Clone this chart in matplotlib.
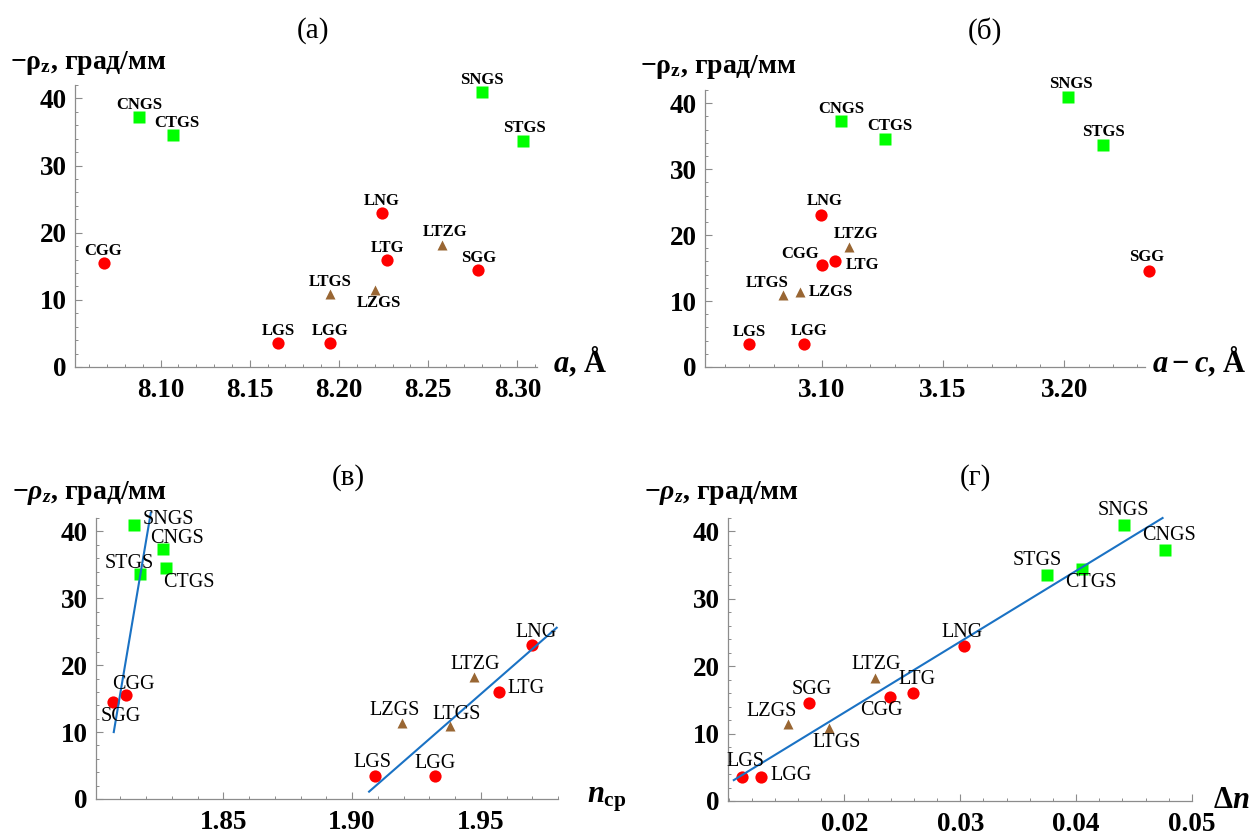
import matplotlib
matplotlib.use("Agg")
import matplotlib.pyplot as plt
from matplotlib.ticker import MultipleLocator, FixedLocator, FormatStrFormatter

plt.rcParams['font.family'] = ['Liberation Serif', 'DejaVu Serif']
plt.rcParams['font.weight'] = 'bold'
plt.rcParams['mathtext.fontset'] = 'custom'
plt.rcParams['mathtext.rm'] = 'Liberation Serif:bold'
plt.rcParams['mathtext.it'] = 'Liberation Serif:bold:italic'
plt.rcParams['mathtext.bf'] = 'Liberation Serif:bold'

# ---- data -------------------------------------------------------------
crystals = ["CGG", "CNGS", "CTGS", "LGS", "LGG", "LTGS", "LZGS",
            "LNG", "LTG", "LTZG", "SGG", "SNGS", "STGS"]
# specific optical rotation, -rho_z (deg/mm)
rho = [15.5, 37.3, 34.5, 3.5, 3.5, 10.9, 11.4, 23.0, 16.0, 18.2, 14.5, 41.0, 33.6]
# lattice parameter a (Angstrom)
lattice_a = [8.068, 8.088, 8.107, 8.166, 8.195, 8.195, 8.220,
             8.224, 8.227, 8.258, 8.278, 8.280, 8.303]
# a - c (Angstrom)
a_minus_c = [3.100, 3.108, 3.126, 3.070, 3.0925, 3.084, 3.091,
             3.0997, 3.1055, 3.111, 3.235, 3.2017, 3.216]
# mean refractive index
n_mean = [1.812, 1.8265, 1.8276, 1.909, 1.9324, 1.938, 1.9193,
          1.970, 1.957, 1.9473, 1.8071, 1.8153, 1.8177]
# birefringence
delta_n = [0.0239, 0.0477, 0.0405, 0.0112, 0.0128, 0.0187, 0.0151,
           0.0303, 0.0259, 0.0226, 0.0169, 0.0441, 0.0375]

circle_group = ["CGG", "LGS", "LGG", "LNG", "LTG", "SGG"]
square_group = ["CNGS", "CTGS", "SNGS", "STGS"]
triangle_group = ["LTGS", "LZGS", "LTZG"]

# linear trends
trend_n_left_x = [1.8074, 1.8218]
trend_n_left_y = [10.0, 42.8]
trend_n_right_x = [1.9066, 1.9795]
trend_n_right_y = [1.1, 25.6]
trend_dn_x = [0.01045, 0.04746]
trend_dn_y = [3.1, 42.0]

xticks_a = [8.10, 8.15, 8.20, 8.25, 8.30]
xticks_ac = [3.10, 3.15, 3.20]
xticks_n = [1.85, 1.90, 1.95]
xticks_dn = [0.02, 0.03, 0.04, 0.05]
yticks = [0, 10, 20, 30, 40]

# ---- figure -----------------------------------------------------------
W, H = 1252, 832
fig = plt.figure(figsize=(W / 100, H / 100), dpi=100)


def px_axes(left, right, top, bottom):
    return fig.add_axes([left / W, 1 - bottom / H, (right - left) / W, (bottom - top) / H])


def ftext(x, y, s, **kw):
    fig.text(x / W, 1 - y / H, s, **kw)


RED, GREEN, BROWN = "#ff0000", "#00ff00", "#996633"
LINE = "#1a72c4"
AXC = "#8c8c8c"


def setup(ax, xlim, xticks, xminor):
    ax.set_xlim(*xlim)
    ax.set_ylim(0, 42)
    for s in ("top", "right"):
        ax.spines[s].set_visible(False)
    for s in ("left", "bottom"):
        ax.spines[s].set_color(AXC)
        ax.spines[s].set_linewidth(0.9)
    ax.xaxis.set_major_locator(FixedLocator(xticks))
    ax.xaxis.set_minor_locator(MultipleLocator(xminor))
    ax.yaxis.set_major_locator(FixedLocator(yticks))
    ax.yaxis.set_minor_locator(MultipleLocator(2))
    ax.xaxis.set_major_formatter(FormatStrFormatter("%.2f"))
    ax.yaxis.set_major_formatter(FormatStrFormatter("%d"))
    ax.tick_params(which="major", direction="in", length=5, width=0.8, color=AXC,
                   labelsize=19.5)
    ax.tick_params(which="minor", direction="in", length=2.5, width=0.7, color=AXC)
    ax.tick_params(axis="x", which="major", pad=8)
    ax.tick_params(axis="y", which="major", pad=6)
    ax.patch.set_alpha(0)


def scatter(ax, xs, offsets, fsize, weight):
    for group, marker, color, ms in ((circle_group, "o", RED, 8.8),
                                     (square_group, "s", GREEN, 8.0),
                                     (triangle_group, "^", BROWN, 7.4)):
        idx = [crystals.index(c) for c in group]
        ax.plot([xs[i] for i in idx], [rho[i] for i in idx], ls="none",
                marker=marker, ms=ms, mfc=color, mec="none", clip_on=False, zorder=3)
    for i, name in enumerate(crystals):
        dx, dy = offsets.get(name, (0, 12))
        ax.annotate(name, (xs[i], rho[i]), xytext=(dx * 0.72, dy * 0.72),
                    textcoords="offset points", ha="center", va="center",
                    fontsize=fsize, fontweight=weight, annotation_clip=False, zorder=5)


# (а) rho vs a
ax1 = px_axes(75, 537, 85, 367)
setup(ax1, (8.052, 8.311), xticks_a, 0.01)
scatter(ax1, lattice_a,
        {"CTGS": (4, 12), "LTZG": (3, 13), "LZGS": (4, -13), "STGS": (2, 13)},
        12, "bold")

# (б) rho vs a - c
ax2 = px_axes(705, 1145, 90, 367)
setup(ax2, (3.0517, 3.2333), xticks_ac, 0.01)
scatter(ax2, a_minus_c,
        {"CTGS": (5, 13), "LTZG": (7, 13), "CGG": (-22, 11), "LTG": (27, -4),
         "LTGS": (-16, 12), "LZGS": (31, 0), "LGG": (5, 13), "LNG": (3, 14),
         "SGG": (-2, 14), "SNGS": (2, 13), "STGS": (0, 13)}, 12, "bold")

# (в) rho vs mean refractive index
ax3 = px_axes(96, 558, 518, 799)
setup(ax3, (1.8005, 1.980), xticks_n, 0.01)
scatter(ax3, n_mean,
        {"SNGS": (34, 5), "CNGS": (14, 11), "STGS": (-11, 11), "CTGS": (23, -14),
         "CGG": (8, 11), "SGG": (8, -15), "LNG": (4, 13), "LTZG": (1, 13),
         "LTG": (27, 3), "LZGS": (-7, 12), "LTGS": (7, 12), "LGS": (-3, 13),
         "LGG": (0, 12)}, 14.5, "normal")
ax3.plot(trend_n_left_x, trend_n_left_y, color=LINE, lw=1.5, clip_on=False, zorder=4)
ax3.plot(trend_n_right_x, trend_n_right_y, color=LINE, lw=1.5, clip_on=False, zorder=4)

# (г) rho vs birefringence
ax4 = px_axes(728, 1192, 518, 801)
setup(ax4, (0.00995, 0.0500), xticks_dn, 0.002)
scatter(ax4, delta_n,
        {"SNGS": (0, 14), "CNGS": (4, 14), "STGS": (-10, 14), "CTGS": (9, -14),
         "LNG": (-2, 14), "LTZG": (2, 14), "LTG": (4, 14), "SGG": (3, 14),
         "CGG": (-8, -14), "LZGS": (-16, 13), "LTGS": (7, -15), "LGS": (3, 16),
         "LGG": (30, 2)}, 14.5, "normal")
ax4.plot(trend_dn_x, trend_dn_y, color=LINE, lw=1.5, clip_on=False, zorder=4)

# panel titles
for x, y, s in ((313, 31, "(а)"), (985, 31, "(б)"), (348, 478, "(в)"), (975, 478, "(г)")):
    ftext(x, y, s, fontsize=21, fontweight="normal", ha="center", va="center")

# y-axis labels
ylab_up = r"$\mathrm{-\rho_z}$, град/мм"
ylab_it = r"$-\rho_z$, град/мм"
ftext(10, 63, ylab_up, fontsize=20, ha="left", va="center")
ftext(640, 67, ylab_up, fontsize=20, ha="left", va="center")
ftext(12, 493, ylab_it, fontsize=20, ha="left", va="center")
ftext(644, 493, ylab_it, fontsize=20, ha="left", va="center")

# x-axis labels
ftext(553, 362, r"$a$, Å", fontsize=22, ha="left", va="center")
ftext(1152, 362, r"$a - c$, Å", fontsize=22, ha="left", va="center")
ftext(587, 800, r"$n_{\mathrm{ср}}$", fontsize=22, ha="left", va="center")
ftext(1213, 800, r"$\Delta n$", fontsize=22, ha="left", va="center")

fig.savefig("out.png", dpi=100)
